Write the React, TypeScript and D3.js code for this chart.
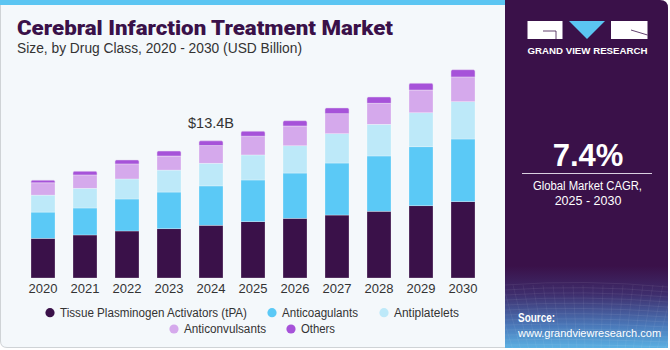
import React from 'react';
import * as d3 from 'd3';

const years = ['2020', '2021', '2022', '2023', '2024', '2025', '2026', '2027', '2028', '2029', '2030'];
const seriesNames = ['Tissue Plasminogen Activators (tPA)', 'Anticoagulants', 'Antiplatelets', 'Anticonvulsants', 'Others'];
const tpa = [3.88, 4.21, 4.6, 4.82, 5.16, 5.51, 5.84, 6.16, 6.53, 7.07, 7.47];
const anticoagulants = [2.57, 2.64, 3.13, 3.59, 3.85, 4.08, 4.43, 5.09, 5.41, 5.77, 6.13];
const antiplatelets = [1.66, 1.93, 1.96, 2.15, 2.22, 2.45, 2.67, 2.87, 3.1, 3.33, 3.65];
const anticonvulsants = [1.2, 1.3, 1.47, 1.37, 1.73, 1.83, 1.93, 1.96, 2.05, 2.22, 2.42];
const others = [0.26, 0.36, 0.39, 0.49, 0.46, 0.49, 0.52, 0.56, 0.62, 0.66, 0.71];
const colors = ['#3a1149', '#5bc9f6', '#bde9f9', '#d5a9ec', '#a652d9'];
const callout = { year: '2024', label: '$13.4B' };

const W = 670;
const H = 350;
const font = "'Liberation Sans', Arial, sans-serif";

export default function App() {
  const keys = ['tpa', 'anticoagulants', 'antiplatelets', 'anticonvulsants', 'others'];
  const rows = years.map((y, i) => ({
    year: y,
    tpa: tpa[i],
    anticoagulants: anticoagulants[i],
    antiplatelets: antiplatelets[i],
    anticonvulsants: anticonvulsants[i],
    others: others[i],
  }));
  const stacked = d3.stack<any>().keys(keys)(rows);

  const x = d3.scaleBand().domain(years).range([22, 484]).paddingInner(0.4286).paddingOuter(0.2143);
  const y = d3.scaleLinear().domain([0, 20]).range([278, 73.6]);
  const bw = x.bandwidth();

  const roundTop = (x0: number, y0: number, w: number, h: number, r: number) => {
    const p = d3.path();
    p.moveTo(x0, y0 + h);
    p.lineTo(x0, y0 + r);
    p.quadraticCurveTo(x0, y0, x0 + r, y0);
    p.lineTo(x0 + w - r, y0);
    p.quadraticCurveTo(x0 + w, y0, x0 + w, y0 + r);
    p.lineTo(x0 + w, y0 + h);
    p.closePath();
    return p.toString();
  };

  const calloutIdx = years.indexOf(callout.year);
  const calloutTop = y(stacked[stacked.length - 1][calloutIdx][1]);

  // legend rows: circle x and text width
  const legendRows = [
    [{ i: 0, cx: 50, w: 187 }, { i: 1, cx: 272, w: 76 }, { i: 2, cx: 384, w: 65 }],
    [{ i: 3, cx: 174, w: 82 }, { i: 4, cx: 291, w: 34 }],
  ];

  // grid texture in right panel
  const gridLines: JSX.Element[] = [];
  for (let k = 0; k < 14; k++) {
    const yy = 285 + k * 5;
    gridLines.push(
      <path key={'h' + k} d={`M505,${yy} Q585,${yy - 6 + k * 0.4} 668,${yy + 2}`} stroke="#ffffff" strokeOpacity={0.12} fill="none" strokeWidth={0.6} />
    );
  }
  for (let k = 0; k < 22; k++) {
    const xx = 505 + k * 8;
    gridLines.push(
      <path key={'v' + k} d={`M${xx + (k - 11) * 2},285 L${xx},350`} stroke="#ffffff" strokeOpacity={0.1} fill="none" strokeWidth={0.6} />
    );
  }

  return (
    <svg width={W} height={H} style={{ position: 'absolute', left: 0, top: 0 }} fontFamily={font}>
      <defs>
        <linearGradient id="side" x1="0" y1="0" x2="0" y2="1">
          <stop offset="0" stopColor="#3a1149" />
          <stop offset="0.76" stopColor="#3a1149" />
          <stop offset="0.84" stopColor="#3e2d6c" />
          <stop offset="0.93" stopColor="#4a78b9" />
          <stop offset="1" stopColor="#5cb5e6" />
        </linearGradient>
        <clipPath id="sideClip">
          <path d="M505,0 L660,0 Q668,0 668,8 L668,348 L505,348 Z" />
        </clipPath>
      </defs>
      <rect x={0} y={0} width={W} height={H} fill="#ffffff" />
      {/* chart panel */}
      <path d="M0.5,0 L0.5,341 Q0.5,347.5 7,347.5 L506,347.5 L506,0 Z" fill="#f4f8fb" stroke="#cfd3d6" strokeWidth={1} />
      <rect x={0} y={0} width={506} height={5} fill="#5bc5f2" />

      <text x={17} y={35} fontSize={20.5} fontWeight={900} fill="#3a1149" fontFamily="Roboto, 'Liberation Sans', sans-serif"
        textLength={376} lengthAdjust="spacingAndGlyphs">
        Cerebral Infarction Treatment Market
      </text>
      <text x={17} y={53} fontSize={14} fill="#333333" textLength={285} lengthAdjust="spacingAndGlyphs">
        Size, by Drug Class, 2020 - 2030 (USD Billion)
      </text>

      {stacked.map((s, si) => (
        <g key={s.key}>
          {s.map((d, i) => {
            const x0 = x(years[i]) as number;
            const top = y(d[1]);
            const h = y(d[0]) - y(d[1]);
            if (si === stacked.length - 1) {
              return <path key={i} d={roundTop(x0, top, bw, h, 1.5)} fill={colors[si]} stroke="#e6d8f0" strokeWidth={0.5} />;
            }
            return <rect key={i} x={x0} y={top} width={bw} height={h} fill={colors[si]} stroke="#ffffff" strokeOpacity={0.45} strokeWidth={0.6} />;
          })}
        </g>
      ))}

      {years.map((yr) => (
        <text key={yr} x={(x(yr) as number) + bw / 2} y={293} fontSize={13} fill="#333333" textAnchor="middle">
          {yr}
        </text>
      ))}

      <text x={(x(callout.year) as number) + bw / 2} y={calloutTop - 13} fontSize={14.5} fill="#333333" textAnchor="middle">
        {callout.label}
      </text>

      {legendRows.map((row, ri) =>
        row.map(({ i, cx, w }) => (
          <g key={seriesNames[i]}>
            <circle cx={cx} cy={312.7 + ri * 16.3} r={4.6} fill={colors[i]} />
            <text x={cx + 10} y={317 + ri * 16.3} fontSize={12} fill="#333333" textLength={w} lengthAdjust="spacingAndGlyphs">
              {seriesNames[i]}
            </text>
          </g>
        ))
      )}

      {/* right panel */}
      <g clipPath="url(#sideClip)">
        <rect x={505} y={0} width={165} height={350} fill="url(#side)" />
        {gridLines}
      </g>
      {/* logo */}
      <rect x={527.5} y={21} width={35} height={18} fill="#ffffff" />
      <path d="M543,31 L556,31 L556,39" stroke="#3a1149" strokeWidth={0.8} fill="none" />
      <path d="M569,21 L605,21 L587,39 Z" fill="#5bc5f2" />
      <rect x={611} y={21} width={36.5} height={18} fill="#ffffff" />
      <path d="M631,30 L647.5,35" stroke="#3a1149" strokeWidth={0.8} fill="none" />
      <text x={527.5} y={53.5} fontSize={9.4} fontWeight={700} fill="#ffffff" textLength={120} lengthAdjust="spacingAndGlyphs">
        GRAND VIEW RESEARCH
      </text>

      <text x={588} y={166} fontSize={31} fontWeight={700} fill="#ffffff" textAnchor="middle">
        7.4%
      </text>
      <line x1={522} x2={652} y1={173.5} y2={173.5} stroke="#d9d0e0" strokeWidth={1} />
      <text x={533} y={190} fontSize={12.5} fill="#ffffff" textLength={109} lengthAdjust="spacingAndGlyphs">
        Global Market CAGR,
      </text>
      <text x={588} y={205} fontSize={12.5} fill="#ffffff" textAnchor="middle">
        2025 - 2030
      </text>

      <text x={518} y={322} fontSize={12.5} fontWeight={700} fill="#ffffff" textLength={37} lengthAdjust="spacingAndGlyphs">
        Source:
      </text>
      <text x={518} y={337} fontSize={11} fill="#ffffff">
        www.grandviewresearch.com
      </text>
    </svg>
  );
}
